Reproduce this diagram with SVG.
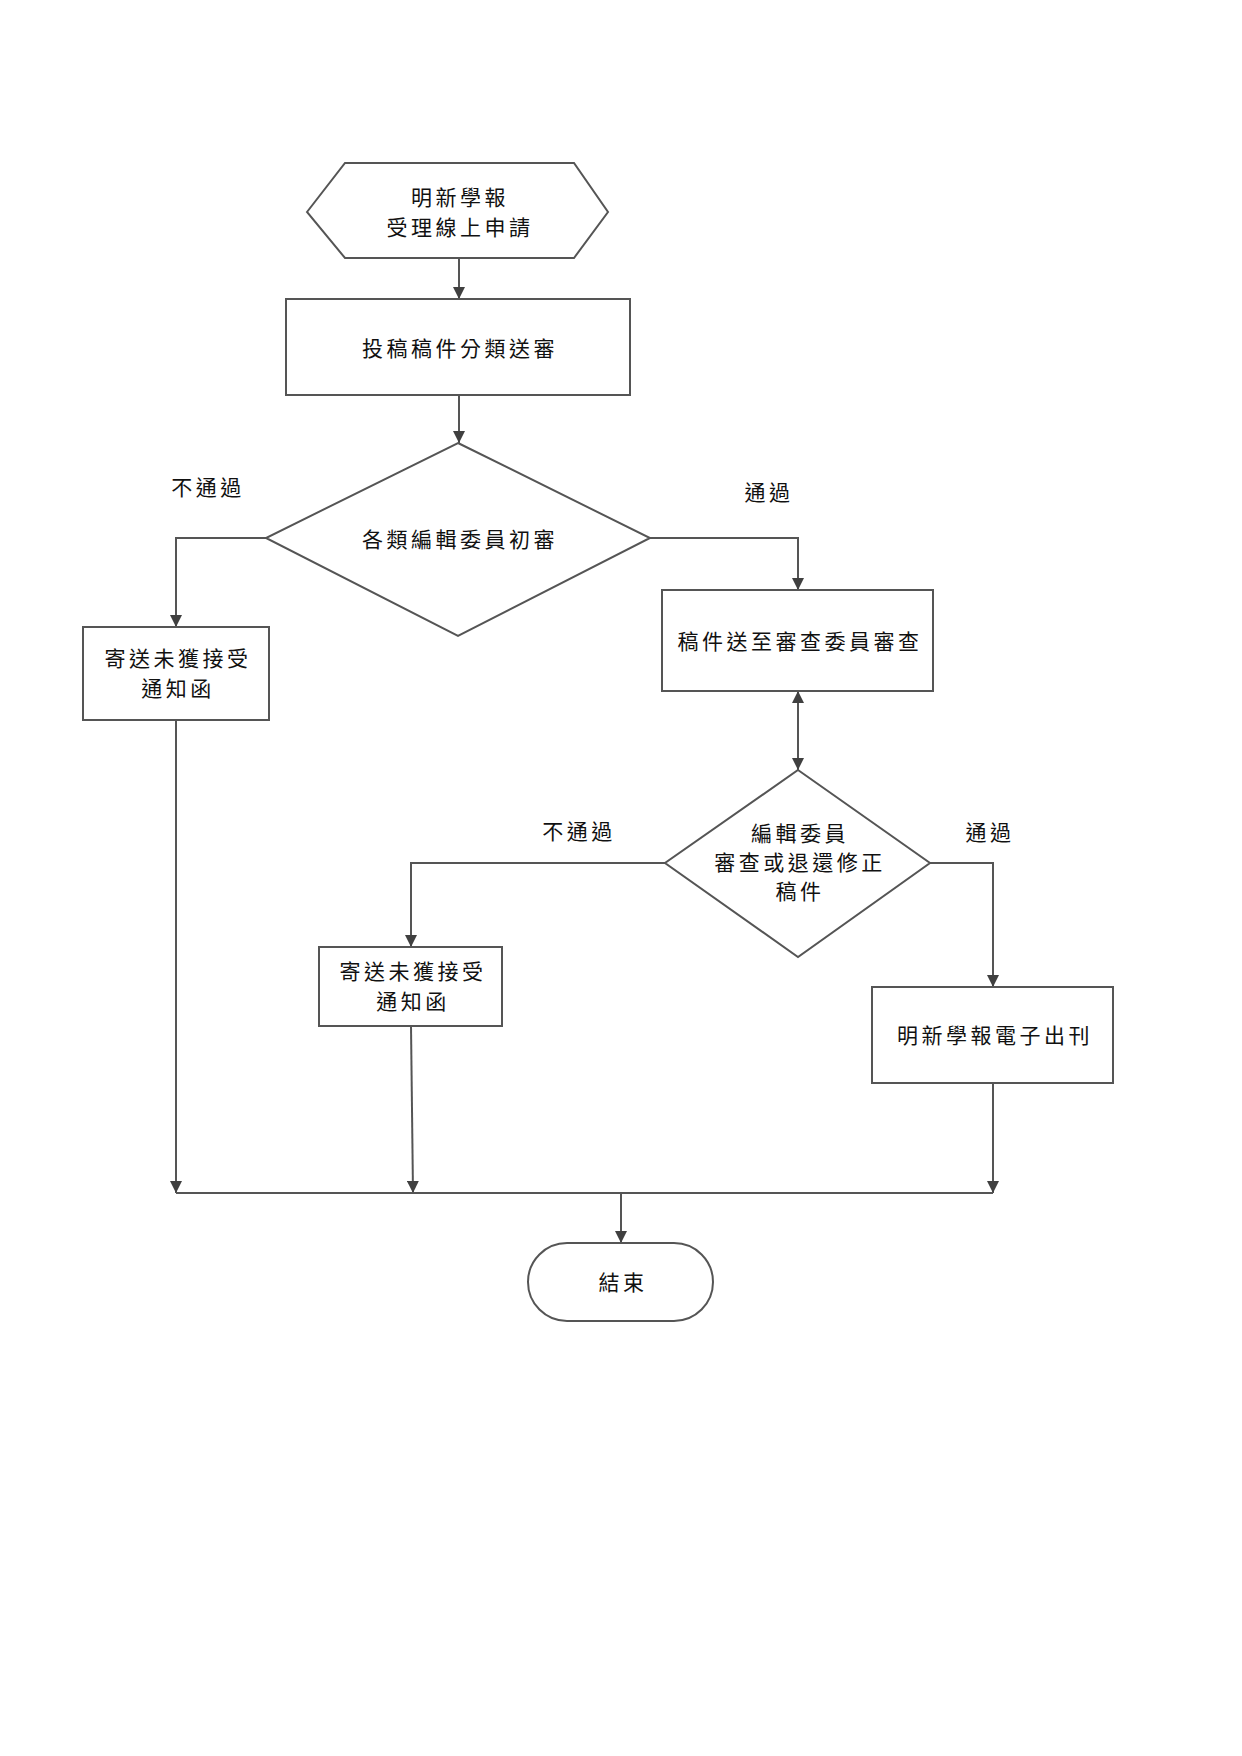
<svg xmlns="http://www.w3.org/2000/svg" width="1242" height="1756" viewBox="0 0 1242 1756">
<defs>
<style>
.shape{fill:#fff;stroke:#555;stroke-width:2}
.conn{fill:none;stroke:#555;stroke-width:2}
text{font-family:"Noto Sans CJK TC","Noto Sans CJK SC",sans-serif;font-size:21px;fill:#111;text-anchor:middle;dominant-baseline:central;letter-spacing:3.5px}
</style>
<marker id="arr" markerUnits="userSpaceOnUse" markerWidth="12" markerHeight="12" viewBox="0 0 12 12" refX="12" refY="6" orient="auto-start-reverse">
<path d="M0,0 L12,6 L0,12 Z" fill="#404040"/>
</marker>
</defs>
<rect width="1242" height="1756" fill="#fff"/>
<g id="connectors">
<line class="conn" x1="459" y1="258" x2="459" y2="299" marker-end="url(#arr)"/>
<line class="conn" x1="459" y1="395" x2="459" y2="443" marker-end="url(#arr)"/>
<polyline class="conn" points="266,538 176,538 176,627" marker-end="url(#arr)"/>
<polyline class="conn" points="650,538 798,538 798,590" marker-end="url(#arr)"/>
<line class="conn" x1="798" y1="691" x2="798" y2="770" marker-start="url(#arr)" marker-end="url(#arr)"/>
<polyline class="conn" points="665,863 411,863 411,947" marker-end="url(#arr)"/>
<polyline class="conn" points="930,863 993,863 993,987" marker-end="url(#arr)"/>
<line class="conn" x1="176" y1="720" x2="176" y2="1193" marker-end="url(#arr)"/>
<line class="conn" x1="411" y1="1026" x2="413" y2="1193" marker-end="url(#arr)"/>
<line class="conn" x1="993" y1="1083" x2="993" y2="1193" marker-end="url(#arr)"/>
<line class="conn" x1="176" y1="1193" x2="993" y2="1193"/>
<line class="conn" x1="621" y1="1193" x2="621" y2="1243" marker-end="url(#arr)"/>
<text x="208" y="486">不通過</text>
<text x="769" y="491">通過</text>
<text x="579" y="830">不通過</text>
<text x="990" y="831">通過</text>
</g>
<g id="start">
<polygon class="shape" points="307,212 345,163 574,163 608,212 574,258 345,258"/>
<text x="460" y="196">明新學報</text>
<text x="460" y="226">受理線上申請</text>
</g>
<g id="classify">
<rect class="shape" x="286" y="299" width="344" height="96"/>
<text x="460" y="347">投稿稿件分類送審</text>
</g>
<g id="decision1">
<polygon class="shape" points="458,443 650,538 458,636 266,538"/>
<text x="460" y="538">各類編輯委員初審</text>
</g>
<g id="reject1">
<rect class="shape" x="83" y="627" width="186" height="93"/>
<text x="178" y="657">寄送未獲接受</text>
<text x="178" y="687">通知函</text>
</g>
<g id="review">
<rect class="shape" x="662" y="590" width="271" height="101"/>
<text x="800" y="640">稿件送至審查委員審查</text>
</g>
<g id="decision2">
<polygon class="shape" points="798,770 930,863 798,957 665,863"/>
<text x="800" y="832">編輯委員</text>
<text x="800" y="861">審查或退還修正</text>
<text x="800" y="890">稿件</text>
</g>
<g id="reject2">
<rect class="shape" x="319" y="947" width="183" height="79"/>
<text x="413" y="970">寄送未獲接受</text>
<text x="413" y="1000">通知函</text>
</g>
<g id="publish">
<rect class="shape" x="872" y="987" width="241" height="96"/>
<text x="995" y="1034">明新學報電子出刊</text>
</g>
<g id="end">
<rect class="shape" x="528" y="1243" width="185" height="78" rx="39" ry="39"/>
<text x="623" y="1281">結束</text>
</g>
</svg>
